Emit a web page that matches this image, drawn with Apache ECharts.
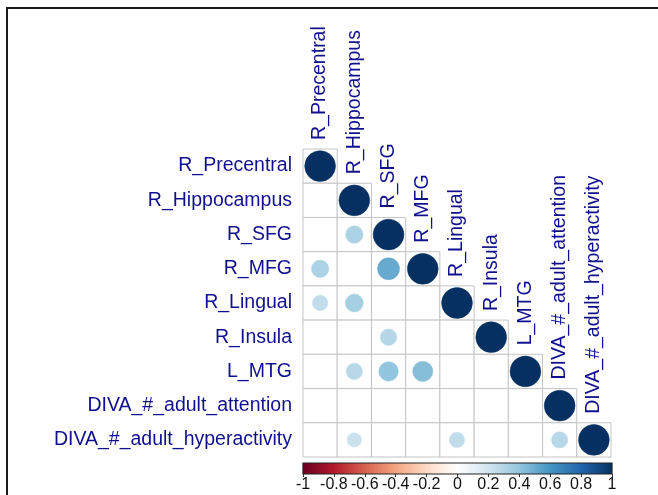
<!DOCTYPE html>
<html>
<head>
<meta charset="utf-8">
<script src="https://cdn.jsdelivr.net/npm/echarts@6/dist/echarts.min.js"></script>
<style>
html,body{margin:0;padding:0;background:#fff;}
#chart{width:658px;height:495px;}
</style>
</head>
<body>
<div id="chart"></div>
<script>
// Variables (rows / columns of the correlation matrix)
const variables = ['R_Precentral','R_Hippocampus','R_SFG','R_MFG','R_Lingual','R_Insula','L_MTG','DIVA_#_adult_attention','DIVA_#_adult_hyperactivity'];

// Off-diagonal correlations shown: [rowIndex, colIndex, r]
const offDiagonal = [
  [2,1,0.32],
  [3,0,0.32],[3,2,0.51],
  [4,0,0.25],[4,1,0.34],
  [5,2,0.29],
  [6,1,0.28],[6,2,0.40],[6,3,0.43],
  [8,1,0.22],[8,4,0.25],[8,7,0.28]
];
// Diagonal correlations
const diagonal = [1,1,1,1,1,1,1,1,1];

// Colour bar tick labels
const colorbarTicks = ['-1','-0.8','-0.6','-0.4','-0.2','0','0.2','0.4','0.6','0.8','1'];

// RdBu palette (corrplot COL2)
const palette = ['#67001F','#B2182B','#D6604D','#F4A582','#FDDBC7','#FFFFFF','#D1E5F0','#92C5DE','#4393C3','#2166AC','#053061'];

const labelColor = '#10108f';
const fontFam = '"Liberation Sans", Arial, sans-serif';

const cellData = [];
for (let i = 0; i < variables.length; i++) for (let j = 0; j <= i; j++) cellData.push([j, i]);
const circleData = diagonal.map((v, i) => [i, i, v]).concat(offDiagonal.map(d => [d[1], d[0], d[2]]));
const colLabelData = variables.map((n, i) => [i, i, n]);

const chart = echarts.init(document.getElementById('chart'), null, {renderer: 'canvas'});
chart.setOption({
  backgroundColor: '#fff',
  animation: false,
  graphic: [{
    type: 'polyline',
    shape: {points: [[7, 600], [7, 8], [700, 8]]},
    style: {stroke: '#1a1a1a', lineWidth: 2, fill: null},
    z: 100
  }],
  grid: [
    {left: 303, top: 149, width: 308, height: 308},
    {left: 303, top: 463, width: 309, height: 11}
  ],
  xAxis: [
    {gridIndex: 0, type: 'category', data: variables, show: false},
    {gridIndex: 1, type: 'value', min: -1, max: 1, interval: 0.2,
      axisLine: {show: false}, splitLine: {show: false},
      axisTick: {show: true, length: 3, lineStyle: {color: '#333'}},
      axisLabel: {margin: 3, fontSize: 16, color: '#111', fontFamily: fontFam,
        formatter: v => colorbarTicks[Math.round((v + 1) / 0.2)]}}
  ],
  yAxis: [
    {gridIndex: 0, type: 'category', data: variables, inverse: true,
      axisLine: {show: false}, axisTick: {show: false}, splitLine: {show: false},
      axisLabel: {margin: 11, fontSize: 19.5, color: labelColor, fontFamily: fontFam}},
    {gridIndex: 1, type: 'value', min: 0, max: 1, show: false}
  ],
  visualMap: {
    show: false, type: 'continuous', min: -1, max: 1, dimension: 2,
    seriesIndex: 1, inRange: {color: palette}
  },
  series: [
    {
      type: 'custom', xAxisIndex: 0, yAxisIndex: 0, data: cellData, z: 1,
      renderItem: (params, api) => {
        const c = api.coord([api.value(0), api.value(1)]);
        const s = api.size([1, 1]);
        return {type: 'rect', shape: {x: c[0] - s[0] / 2, y: c[1] - s[1] / 2, width: s[0], height: s[1]},
          style: {fill: '#fff', stroke: '#c4c4c4', lineWidth: 1}};
      }
    },
    {
      type: 'custom', xAxisIndex: 0, yAxisIndex: 0, data: circleData, z: 2,
      renderItem: (params, api) => {
        const c = api.coord([api.value(0), api.value(1)]);
        const s = api.size([1, 1]);
        const r = 0.45 * Math.sqrt(Math.abs(api.value(2))) * s[0];
        const col = api.visual('color');
        return {type: 'circle', shape: {cx: c[0], cy: c[1], r: r},
          style: {fill: col, stroke: col, lineWidth: 0.5}};
      }
    },
    {
      type: 'custom', xAxisIndex: 0, yAxisIndex: 0, data: colLabelData, z: 3,
      renderItem: (params, api) => {
        const c = api.coord([api.value(0), api.value(1)]);
        const s = api.size([1, 1]);
        return {type: 'text', x: c[0], y: c[1] - s[1] / 2 - 9, rotation: Math.PI / 2,
          style: {text: variables[params.dataIndex], fontSize: 19.5, fontFamily: fontFam,
            fill: labelColor, align: 'left', verticalAlign: 'middle'}};
      }
    },
    {
      type: 'custom', xAxisIndex: 1, yAxisIndex: 1, data: [[-1, 1]], z: 2,
      renderItem: (params, api) => {
        const a = api.coord([api.value(0), 1]);
        const b = api.coord([api.value(1), 0]);
        const stops = palette.map((c, i) => ({offset: i / (palette.length - 1), color: c}));
        return {type: 'rect', shape: {x: a[0], y: a[1], width: b[0] - a[0], height: b[1] - a[1]},
          style: {fill: new echarts.graphic.LinearGradient(0, 0, 1, 0, stops), stroke: '#222', lineWidth: 1.2}};
      }
    }
  ]
});
</script>
</body>
</html>
